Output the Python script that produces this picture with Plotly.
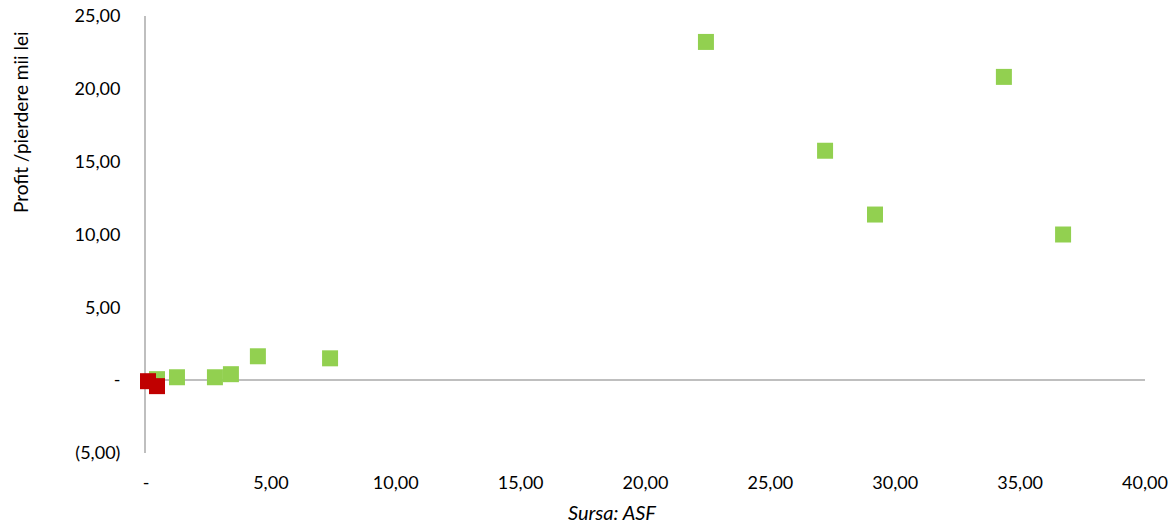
import plotly.graph_objects as go

# Profit / loss (mii lei) versus size, per company
profit_x = [22.42, 34.35, 27.19, 29.19, 36.72, 0.44, 1.24, 2.76, 3.40, 4.48, 7.37]
profit_y = [23.22, 20.82, 15.75, 11.37, 10.00, 0.07, 0.20, 0.20, 0.41, 1.64, 1.50]

loss_x = [0.08, 0.44]
loss_y = [-0.07, -0.41]

x_ticks = [0, 5, 10, 15, 20, 25, 30, 35, 40]
x_tick_text = ["-", "5,00", "10,00", "15,00", "20,00", "25,00", "30,00", "35,00", "40,00"]
y_ticks = [-5, 0, 5, 10, 15, 20, 25]
y_tick_text = ["(5,00)", "-", "5,00", "10,00", "15,00", "20,00", "25,00"]

FONT = "Lato, 'Open Sans', sans-serif"

fig = go.Figure()
fig.add_trace(go.Scatter(
    x=profit_x, y=profit_y, mode="markers", cliponaxis=False,
    marker=dict(symbol="square", size=16, color="#92D050", line=dict(width=0)),
    showlegend=False, hoverinfo="x+y",
))
fig.add_trace(go.Scatter(
    x=loss_x, y=loss_y, mode="markers", cliponaxis=False,
    marker=dict(symbol="square", size=16, color="#C00000", line=dict(width=0)),
    showlegend=False, hoverinfo="x+y",
))

fig.update_layout(
    width=1171, height=523,
    margin=dict(l=146, r=26, t=16, b=70),
    paper_bgcolor="white", plot_bgcolor="white",
    font=dict(family=FONT, size=18, color="#000000"),
    xaxis=dict(
        range=[0, 40], tickvals=x_ticks, ticktext=x_tick_text,
        showgrid=False, zeroline=False, showline=False, automargin=False,
        ticks="", ticklabelstandoff=17, layer="below traces",
        tickfont=dict(family=FONT, size=18, color="#000000"),
    ),
    yaxis=dict(
        range=[-5, 25], tickvals=y_ticks, ticktext=y_tick_text,
        showgrid=False, zeroline=True, zerolinecolor="#BFBFBF", zerolinewidth=2,
        showline=True, linecolor="#BFBFBF", linewidth=2, automargin=False,
        ticks="", ticklabelstandoff=20, layer="below traces",
        tickfont=dict(family=FONT, size=18, color="#000000"),
    ),
    annotations=[
        dict(text="Profit /pierdere mii lei", textangle=-90,
             xref="paper", yref="paper", x=-146 / 999 + 20 / 999, y=(453 - 122) / 437,
             xanchor="center", yanchor="middle", showarrow=False,
             font=dict(family=FONT, size=19, color="#000000")),
        dict(text="<i>Sursa: ASF</i>",
             xref="paper", yref="paper", x=(612 - 146) / 999, y=-(512 - 453) / 437,
             xanchor="center", yanchor="middle", showarrow=False,
             font=dict(family=FONT, size=20, color="#000000")),
    ],
)

fig.write_html("out.html")
